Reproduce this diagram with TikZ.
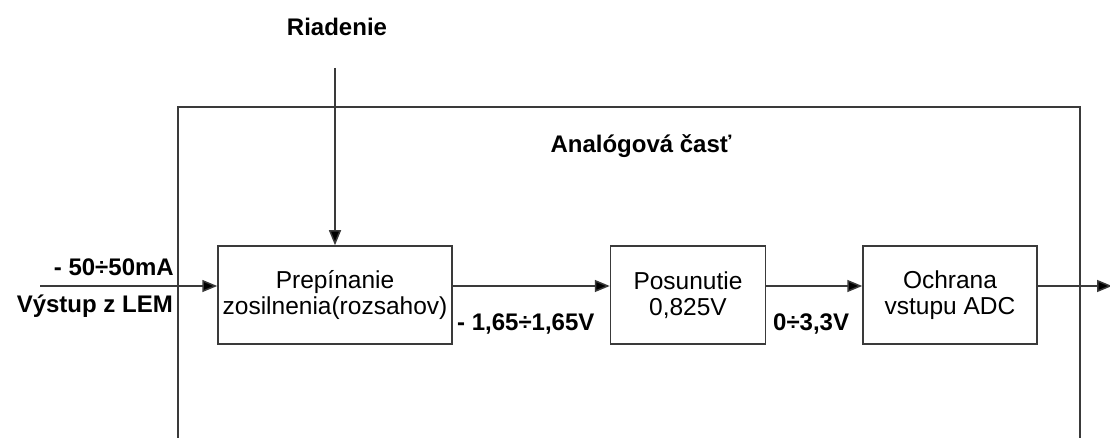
\documentclass[tikz,border=0pt]{standalone}
\usepackage{fontspec}
\setmainfont{Liberation Sans}
\usepackage{tikz}
\usetikzlibrary{arrows.meta,positioning}
\definecolor{lnline}{HTML}{3A3A3A}

\begin{document}
\begin{tikzpicture}[
  x=1pt, y=-1pt,
  node distance=96pt,
  blok/.style={draw=lnline, line width=1.5pt, fill=white, align=center,
               font=\fontsize{24.5}{26.5}\selectfont, minimum height=98pt,
               inner sep=2pt},
  popis/.style={font=\fontsize{24}{26}\selectfont\bfseries, inner sep=0pt},
  ar/.style={-{Triangle[length=15pt,width=12pt,fill=black]}, lnline, line width=1.5pt},
]
\useasboundingbox (0,0) rectangle (1110,438);

% analogova cast (otvorena dole)
\coordinate (acLB) at (178,438);
\coordinate (acLT) at (178,107);
\coordinate (acRT) at (1080,107);
\coordinate (acRB) at (1080,438);
\draw[lnline, line width=1.5pt] (acLB) -- (acLT) -- (acRT) -- (acRB);
\node[popis] (analog) at (641,146) {Analógová časť};

\node[blok, minimum width=234pt] (prep) at (335,295) {Prepínanie\\zosilnenia(rozsahov)};
\node[blok, minimum width=155pt, right=157pt of prep] (posun) {Posunutie\\0,825V};
\node[blok, minimum width=174pt, right=96pt of posun] (ochr) {Ochrana\\vstupu ADC};

\coordinate (vstup) at (40,286);
\coordinate (riad) at (335,68);
\coordinate (vystup) at (1112,286);

\node[popis] (riadlbl) at (337,27) {Riadenie};
\node[popis, anchor=east] (prud) at (174,267) {- 50÷50mA};
\node[popis, anchor=east] (lem) at (173,306) {Výstup z LEM};
\node[popis, anchor=west] (napA) at (457,324) {- 1,65÷1,65V};
\node[popis, anchor=west] (napB) at (773,324) {0÷3,3V};

\draw[ar] (vstup) -- (vstup -| prep.west);
\draw[ar] (riad) -- (prep.north);
\draw[ar] (vstup -| prep.east) -- (vstup -| posun.west);
\draw[ar] (vstup -| posun.east) -- (vstup -| ochr.west);
\draw[ar] (vstup -| ochr.east) -- (vystup);

\end{tikzpicture}
\end{document}
